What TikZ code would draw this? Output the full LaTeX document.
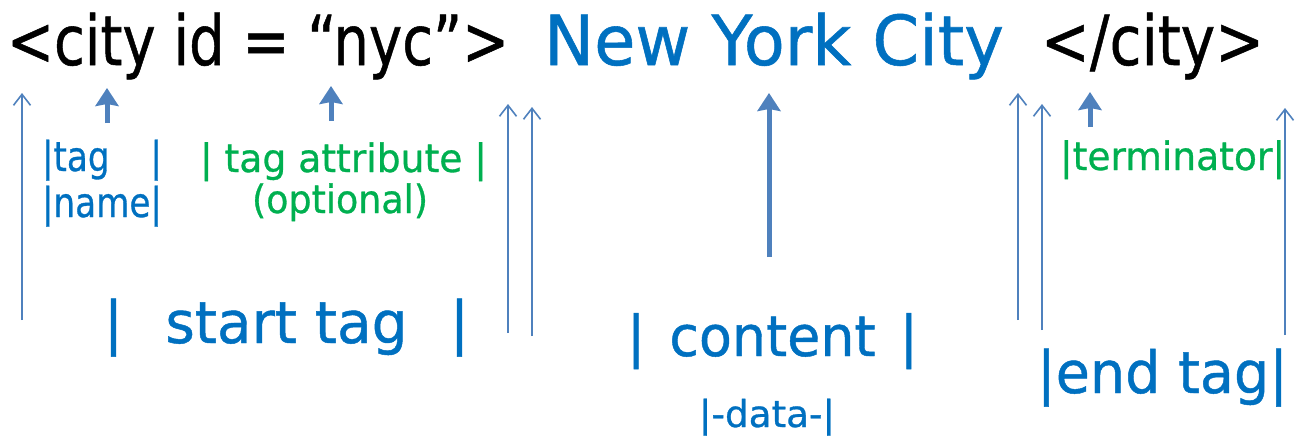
\documentclass[tikz,border=0pt]{standalone}
\usepackage{fontspec}
\setmainfont[FakeBold=0.8]{DejaVu Sans}
\usepackage{graphicx}
\usetikzlibrary{arrows.meta}
\definecolor{blueT}{HTML}{0070C0}
\definecolor{greenT}{HTML}{00B050}
\definecolor{arrowC}{HTML}{4F81BD}
\newcommand\FitW[2]{\resizebox{#1pt}{\height}{#2}}
\newcommand\FS[1]{\fontsize{#1}{#1}\selectfont}
\begin{document}
\begin{tikzpicture}[x=1pt,y=-1pt,
  lab/.style={anchor=base west, inner sep=0pt, outer sep=0pt},
  thinarrow/.style={draw=arrowC, line width=1.6pt, -{Straight Barb[length=11pt,width=17pt,line width=1.6pt]}},
  thickarrow/.style={draw=arrowC, line width=5pt, -{Stealth[inset=2pt,length=18pt,width=23pt]}},
]
\useasboundingbox (0,0) rectangle (1296,439);

% top line
\node[lab] (t1) at (7,65) {\FitW{502}{\FS{69}<city id = “nyc”>}};
\node[lab, text=blueT] (t2) at (544,65) {\FitW{460}{\FS{69}New York City}};
\node[lab] (t3) at (1041,65) {\FitW{223}{\FS{69}</city>}};

% middle labels
\node[lab, text=blueT] (ltag) at (42,171) {\FitW{120}{\FS{41}|tag\hspace{1.196em}|}};
\node[lab, text=blueT] (lname) at (42,217) {\FitW{120}{\FS{41}|name|}};
\node[lab, text=greenT] (lattr) at (200,172) {\FitW{287}{\FS{39}| tag attribute |}};
\node[lab, text=greenT] (lopt) at (252,213) {\FitW{176}{\FS{39}(optional)}};
\node[lab, text=greenT] (lterm) at (1060,170) {\FitW{225}{\FS{39}|terminator|}};

% bottom labels
\node[lab, text=blueT] (lstart) at (104,343) {\FitW{365}{\FS{58}|\hspace{0.75em}start tag\hspace{0.75em}|}};
\node[lab, text=blueT] (lcontent) at (627,356) {\FitW{291}{\FS{56}|\hspace{0.45em}content\hspace{0.45em}|}};
\node[lab, text=blueT] (ldata) at (699,427) {\FitW{136}{\FS{37}|-data-|}};
\node[lab, text=blueT] (lend) at (1037,393) {\FitW{251}{\FS{58}|end tag|}};

% arrow end points
\coordinate (a1s) at (22,320);   \coordinate (a1e) at (22,93);
\coordinate (a2s) at (107,123);  \coordinate (a2e) at (107,88);
\coordinate (a3s) at (331,121);  \coordinate (a3e) at (331,86);
\coordinate (a4s) at (508,333);  \coordinate (a4e) at (508,104);
\coordinate (a5s) at (532,336);  \coordinate (a5e) at (532,107);
\coordinate (a6s) at (769,257);  \coordinate (a6e) at (769,93);
\coordinate (a7s) at (1018,320); \coordinate (a7e) at (1018,93);
\coordinate (a8s) at (1042,330); \coordinate (a8e) at (1042,104);
\coordinate (a9s) at (1090,127); \coordinate (a9e) at (1090,92);
\coordinate (a10s) at (1285,335); \coordinate (a10e) at (1285,108);

\draw[thinarrow] (a1s) -- (a1e);
\draw[thickarrow] (a2s) -- (a2e);
\draw[thickarrow] (a3s) -- (a3e);
\draw[thinarrow] (a4s) -- (a4e);
\draw[thinarrow] (a5s) -- (a5e);
\draw[thickarrow] (a6s) -- (a6e);
\draw[thinarrow] (a7s) -- (a7e);
\draw[thinarrow] (a8s) -- (a8e);
\draw[thickarrow] (a9s) -- (a9e);
\draw[thinarrow] (a10s) -- (a10e);
\end{tikzpicture}
\end{document}
